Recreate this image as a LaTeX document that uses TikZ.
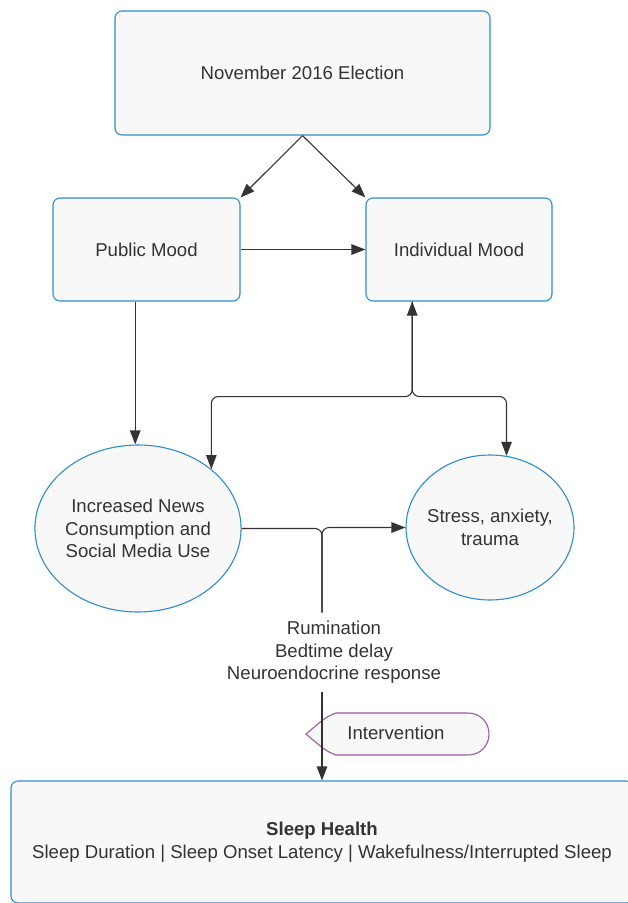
\documentclass[tikz,border=0pt]{standalone}
\usepackage{fontspec}
\setmainfont{Liberation Sans}
\usetikzlibrary{arrows.meta,positioning,calc,shapes.geometric}
\definecolor{lcblue}{HTML}{2E8CCF}
\definecolor{lcfill}{HTML}{F8F8F8}
\definecolor{lcline}{HTML}{333333}
\definecolor{lcpurple}{HTML}{9A5A9E}
\definecolor{lctext}{HTML}{333333}

\begin{document}
\begin{tikzpicture}[
  x=1pt, y=-1pt,
  box/.style={
    draw=lcblue, line width=1.1pt, rounded corners=7pt, fill=lcfill,
    font=\fontsize{18.6}{22.5}\selectfont, align=center, text=lctext},
  oval/.style={
    ellipse, draw=lcblue, line width=1.1pt, fill=lcfill,
    font=\fontsize{18.6}{22.5}\selectfont, align=center, text=lctext,
    inner sep=0pt},
  plain/.style={font=\fontsize{18.6}{22.5}\selectfont, align=center,
    text=lctext, inner xsep=2pt, inner ysep=8.5pt},
  arrow/.style={-{Triangle[length=14pt,width=10.5pt]}, lcline, line width=1.1pt},
  both/.style={{Triangle[length=14pt,width=10.5pt]}-{Triangle[length=14pt,width=10.5pt]},
    lcline, line width=1.1pt},
  link/.style={lcline, line width=1.1pt},
  flag/.style={draw=lcpurple, line width=1.1pt, fill=lcfill},
]
  \useasboundingbox (0,0) rectangle (628,903);

  %% ---- Boxes ----
  \node[box, minimum width=375pt, minimum height=124pt] (elec) at (302.5,73) {November 2016 Election};
  \node[box, minimum width=187pt, minimum height=103pt] (pub) at (146.5,249.5) {Public Mood};
  \node[box, minimum width=186pt, minimum height=103pt] (ind) at (459,249.5) {Individual Mood};

  %% ---- Ovals ----
  \node[oval, minimum width=204pt, minimum height=167pt] (news) at (138,528.5)
    {Increased News\\Consumption and\\Social Media Use};
  \node[oval, minimum width=168pt, minimum height=145pt, inner xsep=-10pt] (stress) at (490,527.5)
    {Stress, anxiety,\\trauma};

  %% ---- Mechanisms and outcome ----
  \node[plain] (mech) at (334,652.5) {Rumination\\Bedtime delay\\Neuroendocrine response};
  \node[box, minimum width=622pt, minimum height=122pt] (sleep) at (322,842)
    {\textbf{Sleep Health}\\Sleep Duration | Sleep Onset Latency | Wakefulness/Interrupted Sleep};

  %% ---- Intervention flag ----
  \draw[flag] (306,734) .. controls (318,724) and (326,716) .. (336,713) -- (468,713)
    .. controls (480,713) and (489,722) .. (489,734)
    .. controls (489,746) and (480,755) .. (468,755) -- (336,755)
    .. controls (326,752) and (318,744) .. (306,734) -- cycle;
  \node[font=\fontsize{18.6}{22.5}\selectfont, text=lctext] (interv) at (396,733) {Intervention};

  %% ---- Connectors ----
  \draw[arrow] (elec.south) -- (pub.north east);
  \draw[arrow] (elec.south) -- (ind.north west);
  \draw[arrow] (pub.east) -- (ind.west);

  \coordinate (pubout) at ($(pub.south west)!0.44!(pub.south east)$);
  \draw[arrow] (pubout) -- (pubout |- news.north);

  \coordinate (indin) at ($(ind.south west)!0.25!(ind.south east)$);
  \coordinate (split) at ($(indin)+(0,95)$);
  \draw[both, rounded corners=7pt] (news.39) |- (split) -- (indin);
  \draw[arrow, rounded corners=7pt] (indin) -- (split) -| (stress.77);

  \coordinate (mtop) at (mech.north -| sleep.north);
  \coordinate (mbot) at (mech.south -| sleep.north);
  \draw[link, rounded corners=7pt] (news.east) -| (mtop);
  \draw[arrow, rounded corners=7pt] (mtop) |- (stress.west);
  \draw[arrow] (mbot) -- (sleep.north);

\end{tikzpicture}
\end{document}
